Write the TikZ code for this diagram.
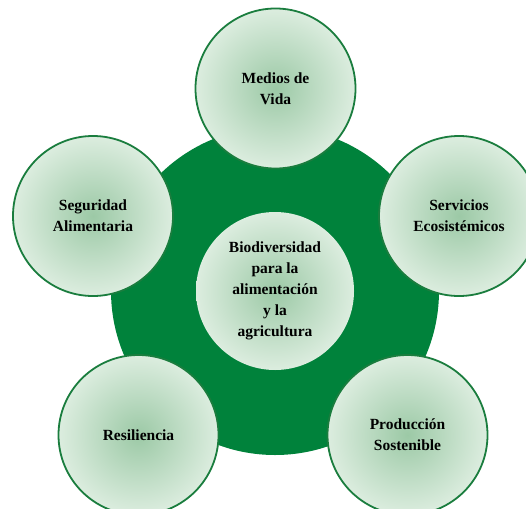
\documentclass[tikz,border=0pt]{standalone}
\usepackage{fontspec}
\setmainfont{Liberation Serif}
\definecolor{ringgreen}{HTML}{00823B}
\definecolor{edgegreen}{HTML}{1A7D3E}
\definecolor{bubblein}{HTML}{9CC9A6}
\definecolor{bubbleout}{HTML}{DCEDDF}
\begin{document}
\begin{tikzpicture}[x=1pt,y=-1pt,
  bubble/.style={circle, minimum size=160pt, inner sep=0pt,
    draw=edgegreen, line width=1.8pt, inner color=bubblein, outer color=bubbleout,
    align=center, font=\fontsize{15.5}{21}\selectfont\bfseries, text=black},
  core/.style={bubble, minimum size=158pt, draw=none}]
  \useasboundingbox (0,0) rectangle (526,508);
  \begin{scope}
    \clip (0,0) rectangle (526,508);
    % green ring behind the bubbles
    \node[circle, fill=ringgreen, minimum size=328pt, inner sep=0pt] (ring) at (275,291) {};
    \node[core] (center) at (275,291) {Biodiversidad\\para la\\alimentación\\y la\\agricultura};
    \node[bubble] (medios) at (275.5,88.5) {Medios de\\Vida};
    \node[bubble] (seguridad) at (93,216) {Seguridad\\Alimentaria};
    \node[bubble] (servicios) at (459,216) {Servicios\\Ecosistémicos};
    \node[bubble] (resiliencia) at (138.5,435) {Resiliencia};
    \node[bubble] (produccion) at (407.5,435) {Producción\\Sostenible};
  \end{scope}
\end{tikzpicture}
\end{document}
